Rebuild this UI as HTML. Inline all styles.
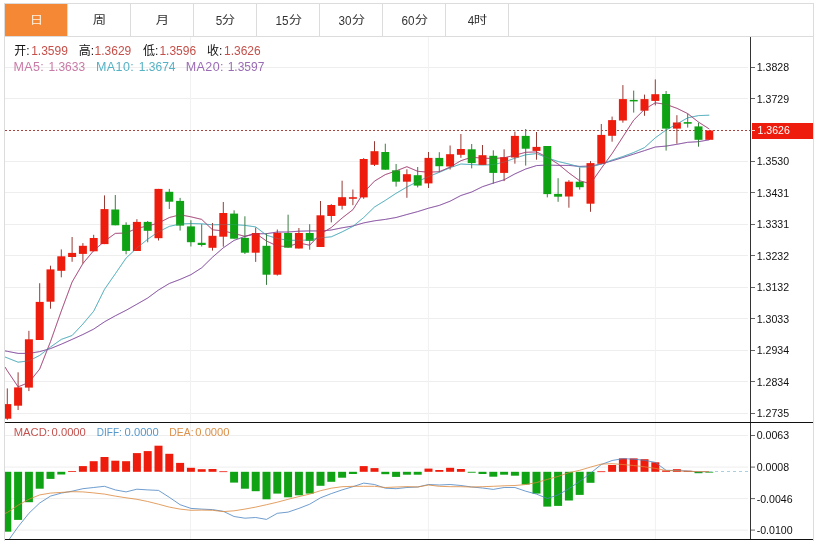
<!DOCTYPE html>
<html lang="zh-CN">
<head>
<meta charset="utf-8">
<title>K线图</title>
<style>
html,body{margin:0;padding:0;background:#fff;}
body{width:814px;height:541px;overflow:hidden;position:relative;font-family:"Liberation Sans","Noto Sans CJK SC",sans-serif;}
#frame{position:absolute;left:4px;top:3px;width:808px;height:538px;border:1px solid #dcdcdc;border-bottom:none;box-sizing:content-box;}
#tabs{position:absolute;left:5px;top:4px;width:808px;height:32px;border-bottom:1px solid #dcdcdc;display:flex;}
#tabs .tab{width:62px;height:32px;border-right:1px solid #dcdcdc;box-sizing:content-box;text-align:center;line-height:31px;font-size:13px;color:#333;white-space:nowrap;}
#tabs .tab.on{background:#f58835;color:#fff3e0;}
#tabs .tab span{display:inline-block;position:relative;top:0.5px;left:0.5px;}
#tabs .tab .c{transform:scale(1.03,0.84);}
#tabs .tab .d{transform:scale(0.9,1);transform-origin:100% 50%;margin-left:-1px;}
svg{position:absolute;left:0;top:0;}
svg text{font-family:"Liberation Sans","Noto Sans CJK SC",sans-serif;}
svg text.ax{font-size:10.6px;fill:#111;}
svg text.lg{font-size:12px;}
svg text.ml{font-size:12.5px;letter-spacing:0.4px;}
svg text.mg{font-size:11.2px;}
</style>
</head>
<body>
<div id="frame"></div>
<div id="tabs"><div class="tab on"><span class="c">日</span></div><div class="tab"><span class="c">周</span></div><div class="tab"><span class="c">月</span></div><div class="tab"><span class="d">5</span><span class="c">分</span></div><div class="tab"><span class="d">15</span><span class="c">分</span></div><div class="tab"><span class="d">30</span><span class="c">分</span></div><div class="tab"><span class="d">60</span><span class="c">分</span></div><div class="tab"><span class="d">4</span><span class="c">时</span></div></div>
<svg width="814" height="541" viewBox="0 0 814 541">
<defs><clipPath id="cm"><rect x="5" y="37" width="745" height="385"/></clipPath><clipPath id="cd"><rect x="5" y="423" width="745" height="116.5"/></clipPath></defs>
<line x1="5" y1="67.5" x2="748" y2="67.5" stroke="#eeeeee" stroke-width="1"/>
<line x1="5" y1="98.5" x2="748" y2="98.5" stroke="#eeeeee" stroke-width="1"/>
<line x1="5" y1="161.5" x2="748" y2="161.5" stroke="#eeeeee" stroke-width="1"/>
<line x1="5" y1="192.5" x2="748" y2="192.5" stroke="#eeeeee" stroke-width="1"/>
<line x1="5" y1="224.5" x2="748" y2="224.5" stroke="#eeeeee" stroke-width="1"/>
<line x1="5" y1="255.5" x2="748" y2="255.5" stroke="#eeeeee" stroke-width="1"/>
<line x1="5" y1="287.5" x2="748" y2="287.5" stroke="#eeeeee" stroke-width="1"/>
<line x1="5" y1="318.5" x2="748" y2="318.5" stroke="#eeeeee" stroke-width="1"/>
<line x1="5" y1="350.5" x2="748" y2="350.5" stroke="#eeeeee" stroke-width="1"/>
<line x1="5" y1="381.5" x2="748" y2="381.5" stroke="#eeeeee" stroke-width="1"/>
<line x1="5" y1="413.5" x2="748" y2="413.5" stroke="#eeeeee" stroke-width="1"/>
<line x1="190.5" y1="37" x2="190.5" y2="539" stroke="#f1f1f1" stroke-width="1"/>
<line x1="428.4" y1="37" x2="428.4" y2="539" stroke="#f1f1f1" stroke-width="1"/>
<line x1="655.4" y1="37" x2="655.4" y2="539" stroke="#f1f1f1" stroke-width="1"/>
<line x1="5" y1="435.5" x2="748" y2="435.5" stroke="#eeeeee" stroke-width="1"/>
<line x1="5" y1="467.1" x2="748" y2="467.1" stroke="#eeeeee" stroke-width="1"/>
<line x1="5" y1="498.6" x2="748" y2="498.6" stroke="#eeeeee" stroke-width="1"/>
<line x1="5" y1="530.1" x2="748" y2="530.1" stroke="#eeeeee" stroke-width="1"/>
<line x1="5" y1="130.5" x2="750" y2="130.5" stroke="#a8443e" stroke-width="1" stroke-dasharray="2 2"/>
<g clip-path="url(#cm)">
<polyline fill="none" stroke="#7e459a" stroke-width="0.8" stroke-linejoin="round" points="5,350.9 7.3,351.3 18.1,353.4 28.9,353.4 39.7,351.6 50.5,348.6 61.3,344.2 72.1,339.4 82.9,334.5 93.7,329.1 104.5,321.8 115.3,315.8 126.1,310.3 136.9,304.2 147.7,298 158.5,290 169.3,283.5 180.1,279.4 190.9,274.7 201.7,267.8 212.5,257.2 223.3,247.8 234.1,240.4 244.9,236.4 255.7,233.8 266.5,233.7 277.3,232 288.1,232 298.9,231.2 309.7,230.9 320.5,231 331.3,230 342.1,227.8 352.9,226 363.7,222.9 374.5,220.8 385.3,219.4 396.1,217.5 406.9,214.5 417.7,211.6 428.5,208.2 439.3,205.4 450.1,201.2 460.9,195.5 471.7,192 482.5,186.7 493.3,183.1 504.1,179.8 514.9,173.9 525.7,169 536.5,165.6 547.3,165 558.1,165.4 568.9,165.4 579.7,166.4 590.5,166 601.3,164 612.1,160.8 622.9,157.5 633.7,154.1 644.5,150.6 655.3,147 666.1,146.1 676.9,144.3 687.7,142.3 698.5,141.7 709.3,139.8"/>
<polyline fill="none" stroke="#46a8b8" stroke-width="0.8" stroke-linejoin="round" points="5,357 7.3,357.9 18.1,362.2 28.9,360.9 39.7,355.4 50.5,347 61.3,339.4 72.1,335.5 82.9,324 93.7,311.2 104.5,289.3 115.3,273.8 126.1,258 136.9,248 147.7,239.2 158.5,231.8 169.3,226.4 180.1,224 190.9,223.5 201.7,223.8 212.5,224.8 223.3,224.6 234.1,224.6 244.9,225.4 255.7,226.9 266.5,235.2 277.3,238.5 288.1,240.3 298.9,240.3 309.7,240 320.5,237.8 331.3,236.8 342.1,231.9 352.9,226.4 363.7,217.5 374.5,207 385.3,200.4 396.1,193.3 406.9,187 417.7,181.5 428.5,176.6 439.3,172.3 450.1,167.7 460.9,164 471.7,164.6 482.5,165 493.3,164.6 504.1,162.1 514.9,158.2 525.7,154.8 536.5,153.6 547.3,157.8 558.1,161.5 568.9,164 579.7,167 590.5,167 601.3,164 612.1,160 622.9,156.5 633.7,152.5 644.5,147.6 655.3,137.8 666.1,130 676.9,124 687.7,117.8 698.5,115.6 709.3,115.2"/>
<polyline fill="none" stroke="#a03c70" stroke-width="0.8" stroke-linejoin="round" points="5,367 7.3,370.8 18.1,386.8 28.9,382.5 39.7,369 50.5,341.6 61.3,311 72.1,282 82.9,263.5 93.7,250.6 104.5,241.2 115.3,233.4 126.1,233 136.9,228.3 147.7,226 158.5,223 169.3,217.5 180.1,214.8 190.9,216.8 201.7,219.4 212.5,229.8 223.3,230.9 234.1,233.5 244.9,236.3 255.7,233.4 266.5,241 277.3,246 288.1,246.5 298.9,243 309.7,245.2 320.5,234 331.3,227.5 342.1,218 352.9,209.7 363.7,192.5 374.5,181.1 385.3,174.6 396.1,170.9 406.9,166.7 417.7,171.3 428.5,172.2 439.3,171.7 450.1,167.1 460.9,160.7 471.7,157.2 482.5,158.2 493.3,158.5 504.1,157.8 514.9,155.2 525.7,152.3 536.5,151.9 547.3,157.2 558.1,164 568.9,172.9 579.7,180.8 590.5,183.7 601.3,168.3 612.1,153.5 622.9,136.8 633.7,120.1 644.5,109.3 655.3,102.8 666.1,104.4 676.9,108.3 687.7,113.6 698.5,122.1 709.3,129"/>
<line x1="7.3" y1="388.4" x2="7.3" y2="419.8" stroke="#963c37" stroke-width="1"/>
<rect x="3.3" y="404.1" width="8" height="14.6" fill="#ee1c0c"/>
<line x1="18.1" y1="372.3" x2="18.1" y2="410" stroke="#963c37" stroke-width="1"/>
<rect x="14.1" y="387.4" width="8" height="18.3" fill="#ee1c0c"/>
<line x1="28.9" y1="330.8" x2="28.9" y2="391.1" stroke="#963c37" stroke-width="1"/>
<rect x="24.9" y="339.3" width="8" height="48.3" fill="#ee1c0c"/>
<line x1="39.7" y1="283.2" x2="39.7" y2="340" stroke="#963c37" stroke-width="1"/>
<rect x="35.7" y="301.9" width="8" height="38.1" fill="#ee1c0c"/>
<line x1="50.5" y1="265.7" x2="50.5" y2="308.7" stroke="#963c37" stroke-width="1"/>
<rect x="46.5" y="269.4" width="8" height="32.3" fill="#ee1c0c"/>
<line x1="61.3" y1="249.4" x2="61.3" y2="277.3" stroke="#963c37" stroke-width="1"/>
<rect x="57.3" y="256.3" width="8" height="14.5" fill="#ee1c0c"/>
<line x1="72.1" y1="237" x2="72.1" y2="261.8" stroke="#963c37" stroke-width="1"/>
<rect x="68.1" y="252.9" width="8" height="4.1" fill="#ee1c0c"/>
<line x1="82.9" y1="243.1" x2="82.9" y2="263.5" stroke="#963c37" stroke-width="1"/>
<rect x="78.9" y="245.8" width="8" height="8.1" fill="#ee1c0c"/>
<line x1="93.7" y1="234.8" x2="93.7" y2="251.3" stroke="#963c37" stroke-width="1"/>
<rect x="89.7" y="238" width="8" height="13.3" fill="#ee1c0c"/>
<line x1="104.5" y1="195.4" x2="104.5" y2="244.1" stroke="#963c37" stroke-width="1"/>
<rect x="100.5" y="209.1" width="8" height="35" fill="#ee1c0c"/>
<line x1="115.3" y1="195" x2="115.3" y2="225.3" stroke="#3c7d41" stroke-width="1"/>
<rect x="111.3" y="209.5" width="8" height="15.8" fill="#0fa214"/>
<line x1="126.1" y1="222.3" x2="126.1" y2="254.3" stroke="#3c7d41" stroke-width="1"/>
<rect x="122.1" y="224.9" width="8" height="26" fill="#0fa214"/>
<line x1="136.9" y1="219.2" x2="136.9" y2="251" stroke="#963c37" stroke-width="1"/>
<rect x="132.9" y="221.9" width="8" height="29.1" fill="#ee1c0c"/>
<line x1="147.7" y1="221" x2="147.7" y2="242.3" stroke="#3c7d41" stroke-width="1"/>
<rect x="143.7" y="221.9" width="8" height="8.9" fill="#0fa214"/>
<line x1="158.5" y1="188.9" x2="158.5" y2="240.5" stroke="#963c37" stroke-width="1"/>
<rect x="154.5" y="188.9" width="8" height="49.3" fill="#ee1c0c"/>
<line x1="169.3" y1="188.9" x2="169.3" y2="209" stroke="#3c7d41" stroke-width="1"/>
<rect x="165.3" y="191.8" width="8" height="9.9" fill="#0fa214"/>
<line x1="180.1" y1="197.9" x2="180.1" y2="230.6" stroke="#3c7d41" stroke-width="1"/>
<rect x="176.1" y="200.9" width="8" height="24.7" fill="#0fa214"/>
<line x1="190.9" y1="220.2" x2="190.9" y2="246.5" stroke="#3c7d41" stroke-width="1"/>
<rect x="186.9" y="226.4" width="8" height="15.8" fill="#0fa214"/>
<line x1="201.7" y1="224.2" x2="201.7" y2="246.5" stroke="#3c7d41" stroke-width="1"/>
<rect x="197.7" y="242.8" width="8" height="2.2" fill="#0fa214"/>
<line x1="212.5" y1="223" x2="212.5" y2="250.6" stroke="#963c37" stroke-width="1"/>
<rect x="208.5" y="235.8" width="8" height="12" fill="#ee1c0c"/>
<line x1="223.3" y1="202" x2="223.3" y2="246.7" stroke="#963c37" stroke-width="1"/>
<rect x="219.3" y="213" width="8" height="23.7" fill="#ee1c0c"/>
<line x1="234.1" y1="210.3" x2="234.1" y2="238.7" stroke="#3c7d41" stroke-width="1"/>
<rect x="230.1" y="213.6" width="8" height="25.1" fill="#0fa214"/>
<line x1="244.9" y1="216.3" x2="244.9" y2="254" stroke="#3c7d41" stroke-width="1"/>
<rect x="240.9" y="237.9" width="8" height="14.8" fill="#0fa214"/>
<line x1="255.7" y1="227.5" x2="255.7" y2="261.9" stroke="#963c37" stroke-width="1"/>
<rect x="251.7" y="233" width="8" height="19.7" fill="#ee1c0c"/>
<line x1="266.5" y1="233.4" x2="266.5" y2="284.9" stroke="#3c7d41" stroke-width="1"/>
<rect x="262.5" y="245.8" width="8" height="28.9" fill="#0fa214"/>
<line x1="277.3" y1="229.5" x2="277.3" y2="275.6" stroke="#963c37" stroke-width="1"/>
<rect x="273.3" y="232.8" width="8" height="41.9" fill="#ee1c0c"/>
<line x1="288.1" y1="214.7" x2="288.1" y2="247.7" stroke="#3c7d41" stroke-width="1"/>
<rect x="284.1" y="233" width="8" height="14.7" fill="#0fa214"/>
<line x1="298.9" y1="228" x2="298.9" y2="248.5" stroke="#963c37" stroke-width="1"/>
<rect x="294.9" y="233" width="8" height="15.5" fill="#ee1c0c"/>
<line x1="309.7" y1="224.2" x2="309.7" y2="249.7" stroke="#3c7d41" stroke-width="1"/>
<rect x="305.7" y="233" width="8" height="7.8" fill="#0fa214"/>
<line x1="320.5" y1="201" x2="320.5" y2="247" stroke="#963c37" stroke-width="1"/>
<rect x="316.5" y="215.3" width="8" height="31.7" fill="#ee1c0c"/>
<line x1="331.3" y1="204.2" x2="331.3" y2="222.4" stroke="#963c37" stroke-width="1"/>
<rect x="327.3" y="205" width="8" height="11" fill="#ee1c0c"/>
<line x1="342.1" y1="180.7" x2="342.1" y2="209.5" stroke="#963c37" stroke-width="1"/>
<rect x="338.1" y="197.2" width="8" height="8.6" fill="#ee1c0c"/>
<line x1="352.9" y1="189.5" x2="352.9" y2="205.2" stroke="#963c37" stroke-width="1"/>
<rect x="348.9" y="197.2" width="8" height="1.6" fill="#ee1c0c"/>
<line x1="363.7" y1="158.1" x2="363.7" y2="198.8" stroke="#963c37" stroke-width="1"/>
<rect x="359.7" y="159" width="8" height="38.4" fill="#ee1c0c"/>
<line x1="374.5" y1="141.2" x2="374.5" y2="166" stroke="#963c37" stroke-width="1"/>
<rect x="370.5" y="151.2" width="8" height="13.6" fill="#ee1c0c"/>
<line x1="385.3" y1="143.7" x2="385.3" y2="169.7" stroke="#3c7d41" stroke-width="1"/>
<rect x="381.3" y="152" width="8" height="17.7" fill="#0fa214"/>
<line x1="396.1" y1="164" x2="396.1" y2="186.6" stroke="#3c7d41" stroke-width="1"/>
<rect x="392.1" y="170.3" width="8" height="11.4" fill="#0fa214"/>
<line x1="406.9" y1="169.3" x2="406.9" y2="197.8" stroke="#963c37" stroke-width="1"/>
<rect x="402.9" y="174.2" width="8" height="7.5" fill="#ee1c0c"/>
<line x1="417.7" y1="167" x2="417.7" y2="187.4" stroke="#3c7d41" stroke-width="1"/>
<rect x="413.7" y="175.2" width="8" height="10.4" fill="#0fa214"/>
<line x1="428.5" y1="152" x2="428.5" y2="188" stroke="#963c37" stroke-width="1"/>
<rect x="424.5" y="157.9" width="8" height="25.5" fill="#ee1c0c"/>
<line x1="439.3" y1="152.2" x2="439.3" y2="172.2" stroke="#3c7d41" stroke-width="1"/>
<rect x="435.3" y="157.9" width="8" height="8.3" fill="#0fa214"/>
<line x1="450.1" y1="145.5" x2="450.1" y2="169.5" stroke="#963c37" stroke-width="1"/>
<rect x="446.1" y="154.2" width="8" height="12.3" fill="#ee1c0c"/>
<line x1="460.9" y1="134" x2="460.9" y2="157.8" stroke="#963c37" stroke-width="1"/>
<rect x="456.9" y="149" width="8" height="5.8" fill="#ee1c0c"/>
<line x1="471.7" y1="144" x2="471.7" y2="168.4" stroke="#3c7d41" stroke-width="1"/>
<rect x="467.7" y="149.3" width="8" height="13.8" fill="#0fa214"/>
<line x1="482.5" y1="145" x2="482.5" y2="165" stroke="#963c37" stroke-width="1"/>
<rect x="478.5" y="155.2" width="8" height="9.8" fill="#ee1c0c"/>
<line x1="493.3" y1="150.3" x2="493.3" y2="183.7" stroke="#3c7d41" stroke-width="1"/>
<rect x="489.3" y="155.8" width="8" height="17.1" fill="#0fa214"/>
<line x1="504.1" y1="149.3" x2="504.1" y2="181.1" stroke="#963c37" stroke-width="1"/>
<rect x="500.1" y="157.2" width="8" height="15.7" fill="#ee1c0c"/>
<line x1="514.9" y1="131.6" x2="514.9" y2="163.7" stroke="#963c37" stroke-width="1"/>
<rect x="510.9" y="135.9" width="8" height="21.6" fill="#ee1c0c"/>
<line x1="525.7" y1="129" x2="525.7" y2="165.6" stroke="#3c7d41" stroke-width="1"/>
<rect x="521.7" y="135.9" width="8" height="12.8" fill="#0fa214"/>
<line x1="536.5" y1="132" x2="536.5" y2="159.7" stroke="#963c37" stroke-width="1"/>
<rect x="532.5" y="146.9" width="8" height="4" fill="#ee1c0c"/>
<line x1="547.3" y1="146" x2="547.3" y2="197.4" stroke="#3c7d41" stroke-width="1"/>
<rect x="543.3" y="146" width="8" height="48.1" fill="#0fa214"/>
<line x1="558.1" y1="178.2" x2="558.1" y2="201.8" stroke="#3c7d41" stroke-width="1"/>
<rect x="554.1" y="193.9" width="8" height="2.8" fill="#0fa214"/>
<line x1="568.9" y1="180.1" x2="568.9" y2="207.7" stroke="#963c37" stroke-width="1"/>
<rect x="564.9" y="181.7" width="8" height="14.8" fill="#ee1c0c"/>
<line x1="579.7" y1="167.6" x2="579.7" y2="189.6" stroke="#3c7d41" stroke-width="1"/>
<rect x="575.7" y="181.7" width="8" height="5.5" fill="#0fa214"/>
<line x1="590.5" y1="161.1" x2="590.5" y2="211.8" stroke="#963c37" stroke-width="1"/>
<rect x="586.5" y="163.1" width="8" height="40.6" fill="#ee1c0c"/>
<line x1="601.3" y1="124" x2="601.3" y2="163.8" stroke="#963c37" stroke-width="1"/>
<rect x="597.3" y="134.9" width="8" height="28.9" fill="#ee1c0c"/>
<line x1="612.1" y1="116.6" x2="612.1" y2="141.7" stroke="#963c37" stroke-width="1"/>
<rect x="608.1" y="120.1" width="8" height="15.7" fill="#ee1c0c"/>
<line x1="622.9" y1="85.1" x2="622.9" y2="122.7" stroke="#963c37" stroke-width="1"/>
<rect x="618.9" y="99.1" width="8" height="21.4" fill="#ee1c0c"/>
<line x1="633.7" y1="90.6" x2="633.7" y2="112.6" stroke="#3c7d41" stroke-width="1"/>
<rect x="629.7" y="99.9" width="8" height="1.5" fill="#0fa214"/>
<line x1="644.5" y1="94.6" x2="644.5" y2="115.8" stroke="#963c37" stroke-width="1"/>
<rect x="640.5" y="99.1" width="8" height="11.6" fill="#ee1c0c"/>
<line x1="655.3" y1="79.4" x2="655.3" y2="105.4" stroke="#963c37" stroke-width="1"/>
<rect x="651.3" y="94.2" width="8" height="6.7" fill="#ee1c0c"/>
<line x1="666.1" y1="91" x2="666.1" y2="150.6" stroke="#3c7d41" stroke-width="1"/>
<rect x="662.1" y="94" width="8" height="34.6" fill="#0fa214"/>
<line x1="676.9" y1="115.2" x2="676.9" y2="143.7" stroke="#963c37" stroke-width="1"/>
<rect x="672.9" y="122.5" width="8" height="6.1" fill="#ee1c0c"/>
<line x1="687.7" y1="113.8" x2="687.7" y2="127.6" stroke="#3c7d41" stroke-width="1"/>
<rect x="683.7" y="122.1" width="8" height="1.6" fill="#0fa214"/>
<line x1="698.5" y1="122.7" x2="698.5" y2="146.7" stroke="#3c7d41" stroke-width="1"/>
<rect x="694.5" y="126.4" width="8" height="13.4" fill="#0fa214"/>
<line x1="709.3" y1="130" x2="709.3" y2="139.8" stroke="#963c37" stroke-width="1"/>
<rect x="705.3" y="130.5" width="8" height="9.3" fill="#ee1c0c"/>
<polyline fill="none" stroke="#7e459a" stroke-width="0.8" stroke-linejoin="round" opacity="0.35" points="5,350.9 7.3,351.3 18.1,353.4 28.9,353.4 39.7,351.6 50.5,348.6 61.3,344.2 72.1,339.4 82.9,334.5 93.7,329.1 104.5,321.8 115.3,315.8 126.1,310.3 136.9,304.2 147.7,298 158.5,290 169.3,283.5 180.1,279.4 190.9,274.7 201.7,267.8 212.5,257.2 223.3,247.8 234.1,240.4 244.9,236.4 255.7,233.8 266.5,233.7 277.3,232 288.1,232 298.9,231.2 309.7,230.9 320.5,231 331.3,230 342.1,227.8 352.9,226 363.7,222.9 374.5,220.8 385.3,219.4 396.1,217.5 406.9,214.5 417.7,211.6 428.5,208.2 439.3,205.4 450.1,201.2 460.9,195.5 471.7,192 482.5,186.7 493.3,183.1 504.1,179.8 514.9,173.9 525.7,169 536.5,165.6 547.3,165 558.1,165.4 568.9,165.4 579.7,166.4 590.5,166 601.3,164 612.1,160.8 622.9,157.5 633.7,154.1 644.5,150.6 655.3,147 666.1,146.1 676.9,144.3 687.7,142.3 698.5,141.7 709.3,139.8"/>
<polyline fill="none" stroke="#46a8b8" stroke-width="0.8" stroke-linejoin="round" opacity="0.35" points="5,357 7.3,357.9 18.1,362.2 28.9,360.9 39.7,355.4 50.5,347 61.3,339.4 72.1,335.5 82.9,324 93.7,311.2 104.5,289.3 115.3,273.8 126.1,258 136.9,248 147.7,239.2 158.5,231.8 169.3,226.4 180.1,224 190.9,223.5 201.7,223.8 212.5,224.8 223.3,224.6 234.1,224.6 244.9,225.4 255.7,226.9 266.5,235.2 277.3,238.5 288.1,240.3 298.9,240.3 309.7,240 320.5,237.8 331.3,236.8 342.1,231.9 352.9,226.4 363.7,217.5 374.5,207 385.3,200.4 396.1,193.3 406.9,187 417.7,181.5 428.5,176.6 439.3,172.3 450.1,167.7 460.9,164 471.7,164.6 482.5,165 493.3,164.6 504.1,162.1 514.9,158.2 525.7,154.8 536.5,153.6 547.3,157.8 558.1,161.5 568.9,164 579.7,167 590.5,167 601.3,164 612.1,160 622.9,156.5 633.7,152.5 644.5,147.6 655.3,137.8 666.1,130 676.9,124 687.7,117.8 698.5,115.6 709.3,115.2"/>
<polyline fill="none" stroke="#a03c70" stroke-width="0.8" stroke-linejoin="round" opacity="0.35" points="5,367 7.3,370.8 18.1,386.8 28.9,382.5 39.7,369 50.5,341.6 61.3,311 72.1,282 82.9,263.5 93.7,250.6 104.5,241.2 115.3,233.4 126.1,233 136.9,228.3 147.7,226 158.5,223 169.3,217.5 180.1,214.8 190.9,216.8 201.7,219.4 212.5,229.8 223.3,230.9 234.1,233.5 244.9,236.3 255.7,233.4 266.5,241 277.3,246 288.1,246.5 298.9,243 309.7,245.2 320.5,234 331.3,227.5 342.1,218 352.9,209.7 363.7,192.5 374.5,181.1 385.3,174.6 396.1,170.9 406.9,166.7 417.7,171.3 428.5,172.2 439.3,171.7 450.1,167.1 460.9,160.7 471.7,157.2 482.5,158.2 493.3,158.5 504.1,157.8 514.9,155.2 525.7,152.3 536.5,151.9 547.3,157.2 558.1,164 568.9,172.9 579.7,180.8 590.5,183.7 601.3,168.3 612.1,153.5 622.9,136.8 633.7,120.1 644.5,109.3 655.3,102.8 666.1,104.4 676.9,108.3 687.7,113.6 698.5,122.1 709.3,129"/>
</g>
<g clip-path="url(#cd)">
<rect x="3.3" y="471.8" width="8" height="59.9" fill="#0fa214"/>
<rect x="14.1" y="471.8" width="8" height="48.1" fill="#0fa214"/>
<rect x="24.9" y="471.8" width="8" height="30.4" fill="#0fa214"/>
<rect x="35.7" y="471.8" width="8" height="16.9" fill="#0fa214"/>
<rect x="46.5" y="471.8" width="8" height="7.1" fill="#0fa214"/>
<rect x="57.3" y="471.8" width="8" height="2.7" fill="#0fa214"/>
<rect x="68.1" y="471" width="8" height="0.8" fill="#ee1c0c"/>
<rect x="78.9" y="466.1" width="8" height="5.7" fill="#ee1c0c"/>
<rect x="89.7" y="461.2" width="8" height="10.6" fill="#ee1c0c"/>
<rect x="100.5" y="457" width="8" height="14.8" fill="#ee1c0c"/>
<rect x="111.3" y="460.7" width="8" height="11.1" fill="#ee1c0c"/>
<rect x="122.1" y="461.2" width="8" height="10.6" fill="#ee1c0c"/>
<rect x="132.9" y="453.1" width="8" height="18.7" fill="#ee1c0c"/>
<rect x="143.7" y="451.1" width="8" height="20.7" fill="#ee1c0c"/>
<rect x="154.5" y="445.7" width="8" height="26.1" fill="#ee1c0c"/>
<rect x="165.3" y="453.8" width="8" height="18" fill="#ee1c0c"/>
<rect x="176.1" y="462.9" width="8" height="8.9" fill="#ee1c0c"/>
<rect x="186.9" y="467.8" width="8" height="4" fill="#ee1c0c"/>
<rect x="197.7" y="469.2" width="8" height="2.6" fill="#ee1c0c"/>
<rect x="208.5" y="469" width="8" height="2.8" fill="#ee1c0c"/>
<rect x="219.3" y="471.3" width="8" height="0.8" fill="#ee1c0c"/>
<rect x="230.1" y="471.8" width="8" height="10.8" fill="#0fa214"/>
<rect x="240.9" y="471.8" width="8" height="16.9" fill="#0fa214"/>
<rect x="251.7" y="471.8" width="8" height="19.4" fill="#0fa214"/>
<rect x="262.5" y="471.8" width="8" height="27.5" fill="#0fa214"/>
<rect x="273.3" y="471.8" width="8" height="21.8" fill="#0fa214"/>
<rect x="284.1" y="471.8" width="8" height="25.5" fill="#0fa214"/>
<rect x="294.9" y="471.8" width="8" height="23.5" fill="#0fa214"/>
<rect x="305.7" y="471.8" width="8" height="21.8" fill="#0fa214"/>
<rect x="316.5" y="471.8" width="8" height="14" fill="#0fa214"/>
<rect x="327.3" y="471.8" width="8" height="10" fill="#0fa214"/>
<rect x="338.1" y="471.8" width="8" height="5.9" fill="#0fa214"/>
<rect x="348.9" y="471.8" width="8" height="2.2" fill="#0fa214"/>
<rect x="359.7" y="466.1" width="8" height="5.7" fill="#ee1c0c"/>
<rect x="370.5" y="468.1" width="8" height="3.7" fill="#ee1c0c"/>
<rect x="381.3" y="471.8" width="8" height="2.4" fill="#0fa214"/>
<rect x="392.1" y="471.8" width="8" height="5.1" fill="#0fa214"/>
<rect x="402.9" y="471.8" width="8" height="2.9" fill="#0fa214"/>
<rect x="413.7" y="471.8" width="8" height="2.9" fill="#0fa214"/>
<rect x="424.5" y="468.6" width="8" height="3.2" fill="#ee1c0c"/>
<rect x="435.3" y="470" width="8" height="1.8" fill="#ee1c0c"/>
<rect x="446.1" y="467.8" width="8" height="4" fill="#ee1c0c"/>
<rect x="456.9" y="469" width="8" height="2.8" fill="#ee1c0c"/>
<rect x="467.7" y="471.8" width="8" height="0.9" fill="#0fa214"/>
<rect x="478.5" y="471.8" width="8" height="2.2" fill="#0fa214"/>
<rect x="489.3" y="471.8" width="8" height="4.9" fill="#0fa214"/>
<rect x="500.1" y="471.8" width="8" height="2.9" fill="#0fa214"/>
<rect x="510.9" y="471.8" width="8" height="3.9" fill="#0fa214"/>
<rect x="521.7" y="471.8" width="8" height="12.7" fill="#0fa214"/>
<rect x="532.5" y="471.8" width="8" height="21.8" fill="#0fa214"/>
<rect x="543.3" y="471.8" width="8" height="34.8" fill="#0fa214"/>
<rect x="554.1" y="471.8" width="8" height="34.1" fill="#0fa214"/>
<rect x="564.9" y="471.8" width="8" height="28.7" fill="#0fa214"/>
<rect x="575.7" y="471.8" width="8" height="23.1" fill="#0fa214"/>
<rect x="586.5" y="471.8" width="8" height="11" fill="#0fa214"/>
<rect x="597.3" y="471.3" width="8" height="0.8" fill="#ee1c0c"/>
<rect x="608.1" y="465" width="8" height="6.8" fill="#ee1c0c"/>
<rect x="618.9" y="458.4" width="8" height="13.4" fill="#ee1c0c"/>
<rect x="629.7" y="458.4" width="8" height="13.4" fill="#ee1c0c"/>
<rect x="640.5" y="459.2" width="8" height="12.6" fill="#ee1c0c"/>
<rect x="651.3" y="462.3" width="8" height="9.5" fill="#ee1c0c"/>
<rect x="662.1" y="470.5" width="8" height="1.3" fill="#ee1c0c"/>
<rect x="672.9" y="469.2" width="8" height="2.6" fill="#ee1c0c"/>
<rect x="683.7" y="470.8" width="8" height="1" fill="#ee1c0c"/>
<rect x="694.5" y="471.8" width="8" height="1.4" fill="#0fa214"/>
<rect x="705.3" y="471.8" width="8" height="0.8" fill="#0fa214"/>
<polyline fill="none" stroke="#4a84c2" stroke-width="0.8" stroke-linejoin="round" points="5,545 7.3,542 18.1,526.8 28.9,513.3 39.7,503 50.5,496.1 61.3,493.1 72.1,491.2 82.9,488.7 93.7,487.5 104.5,486.3 115.3,489.9 126.1,491.9 136.9,489.2 147.7,489.9 158.5,490.4 169.3,497.3 180.1,504.7 190.9,508.4 201.7,509.1 212.5,509.6 223.3,511.3 234.1,516.5 244.9,518.2 255.7,517.5 266.5,519.4 277.3,513.3 288.1,512.1 298.9,508.4 309.7,504.2 320.5,497.8 331.3,493.6 342.1,489.9 352.9,486.7 363.7,483.1 374.5,484.5 385.3,488.2 396.1,488.7 406.9,487.5 417.7,487 428.5,484.5 439.3,485 450.1,484.5 460.9,485.5 471.7,487 482.5,488 493.3,489.4 504.1,487.5 514.9,487.5 525.7,491.2 536.5,494.1 547.3,498.5 558.1,494.9 568.9,488.7 579.7,481.3 590.5,473.2 601.3,464.5 612.1,460.5 622.9,458.7 633.7,459.2 644.5,460.3 655.3,462.4 666.1,470.3 676.9,470.5 687.7,471.1 698.5,471.8 709.3,471.6"/>
<polyline fill="none" stroke="#dc883c" stroke-width="0.8" stroke-linejoin="round" points="5,513.5 7.3,512.5 18.1,505.2 28.9,499.3 39.7,494.9 50.5,493.1 61.3,492.4 72.1,491.7 82.9,491.9 93.7,492.9 104.5,494.1 115.3,496.1 126.1,497.8 136.9,499.3 147.7,501.5 158.5,504.2 169.3,507.1 180.1,509.1 190.9,510.3 201.7,510.1 212.5,510.3 223.3,511.6 234.1,510.8 244.9,509.1 255.7,507.1 266.5,504.7 277.3,502.2 288.1,499.3 298.9,496.6 309.7,494.1 320.5,490.7 331.3,488.2 342.1,486.7 352.9,486.3 363.7,486.3 374.5,486.3 385.3,487.5 396.1,487 406.9,486.6 417.7,487 428.5,485 439.3,486.3 450.1,486.7 460.9,486.7 471.7,487 482.5,486.7 493.3,486.3 504.1,485.8 514.9,485.5 525.7,484.5 536.5,482.6 547.3,479.4 558.1,476.4 568.9,472.7 579.7,470.3 590.5,467.1 601.3,464.1 612.1,463.7 622.9,464.5 633.7,465.5 644.5,466.8 655.3,468.4 666.1,470.5 676.9,470.8 687.7,471.3 698.5,471.6 709.3,471.6"/>
</g>
<line x1="709" y1="471.5" x2="750" y2="471.5" stroke="#a9cfe0" stroke-width="1" stroke-dasharray="3 3"/>
<line x1="750.5" y1="37" x2="750.5" y2="540" stroke="#333" stroke-width="1"/>
<line x1="5" y1="422.5" x2="813" y2="422.5" stroke="#111" stroke-width="1"/>
<line x1="5" y1="539.5" x2="813" y2="539.5" stroke="#111" stroke-width="1"/>
<line x1="751" y1="67.5" x2="755" y2="67.5" stroke="#666" stroke-width="1"/>
<text x="756.7" y="71" class="ax">1.3828</text>
<line x1="751" y1="98.5" x2="755" y2="98.5" stroke="#666" stroke-width="1"/>
<text x="756.7" y="102.5" class="ax">1.3729</text>
<line x1="751" y1="161.5" x2="755" y2="161.5" stroke="#666" stroke-width="1"/>
<text x="756.7" y="165.4" class="ax">1.3530</text>
<line x1="751" y1="192.5" x2="755" y2="192.5" stroke="#666" stroke-width="1"/>
<text x="756.7" y="196.9" class="ax">1.3431</text>
<line x1="751" y1="224.5" x2="755" y2="224.5" stroke="#666" stroke-width="1"/>
<text x="756.7" y="228.4" class="ax">1.3331</text>
<line x1="751" y1="255.5" x2="755" y2="255.5" stroke="#666" stroke-width="1"/>
<text x="756.7" y="259.9" class="ax">1.3232</text>
<line x1="751" y1="287.5" x2="755" y2="287.5" stroke="#666" stroke-width="1"/>
<text x="756.7" y="291.4" class="ax">1.3132</text>
<line x1="751" y1="318.5" x2="755" y2="318.5" stroke="#666" stroke-width="1"/>
<text x="756.7" y="322.8" class="ax">1.3033</text>
<line x1="751" y1="350.5" x2="755" y2="350.5" stroke="#666" stroke-width="1"/>
<text x="756.7" y="354.3" class="ax">1.2934</text>
<line x1="751" y1="381.5" x2="755" y2="381.5" stroke="#666" stroke-width="1"/>
<text x="756.7" y="385.8" class="ax">1.2834</text>
<line x1="751" y1="413.5" x2="755" y2="413.5" stroke="#666" stroke-width="1"/>
<text x="756.7" y="417.3" class="ax">1.2735</text>
<line x1="751" y1="435.5" x2="755" y2="435.5" stroke="#666" stroke-width="1"/>
<text x="756.7" y="439.4" class="ax">0.0063</text>
<line x1="751" y1="467.1" x2="755" y2="467.1" stroke="#666" stroke-width="1"/>
<text x="756.7" y="471" class="ax">0.0008</text>
<line x1="751" y1="498.6" x2="755" y2="498.6" stroke="#666" stroke-width="1"/>
<text x="756.7" y="502.5" class="ax">-0.0046</text>
<line x1="751" y1="530.1" x2="755" y2="530.1" stroke="#666" stroke-width="1"/>
<text x="756.7" y="534" class="ax">-0.0100</text>
<rect x="752" y="123" width="61" height="16" fill="#ee1c0c"/>
<line x1="751" y1="130.5" x2="755" y2="130.5" stroke="#ffd6d0" stroke-width="1"/>
<text x="757.5" y="134.2" class="ax" fill="#fff" style="fill:#fff">1.3626</text>
<text x="14.2" y="54.8" class="lg" fill="#111">开:</text>
<text x="31.2" y="54.8" class="lg" fill="#c4504a">1.3599</text>
<text x="78.8" y="54.8" class="lg" fill="#111">高:</text>
<text x="94.6" y="54.8" class="lg" fill="#c4504a">1.3629</text>
<text x="143" y="54.8" class="lg" fill="#111">低:</text>
<text x="159.4" y="54.8" class="lg" fill="#c4504a">1.3596</text>
<text x="207.1" y="54.8" class="lg" fill="#111">收:</text>
<text x="224" y="54.8" class="lg" fill="#c4504a">1.3626</text>
<text x="13.4" y="70.9" class="ml" fill="#c87aa6">MA5:</text>
<text x="48.4" y="70.9" class="lg" fill="#c87aa6">1.3633</text>
<text x="96" y="70.9" class="ml" fill="#55b2c4">MA10:</text>
<text x="138.8" y="70.9" class="lg" fill="#55b2c4">1.3674</text>
<text x="185.8" y="70.9" class="ml" fill="#9a6cb4">MA20:</text>
<text x="227.7" y="70.9" class="lg" fill="#9a6cb4">1.3597</text>
<text x="13.8" y="436" class="mg" fill="#c4524e">MACD:</text>
<text x="51.6" y="436" class="mg" fill="#c4524e">0.0000</text>
<text x="96.8" y="436" class="mg" fill="#5598cc" textLength="25" lengthAdjust="spacingAndGlyphs">DIFF:</text>
<text x="124.6" y="436" class="mg" fill="#5598cc">0.0000</text>
<text x="169.3" y="436" class="mg" fill="#dc9048" textLength="24.3" lengthAdjust="spacingAndGlyphs">DEA:</text>
<text x="195.3" y="436" class="mg" fill="#dc9048">0.0000</text>
</svg>
</body>
</html>
